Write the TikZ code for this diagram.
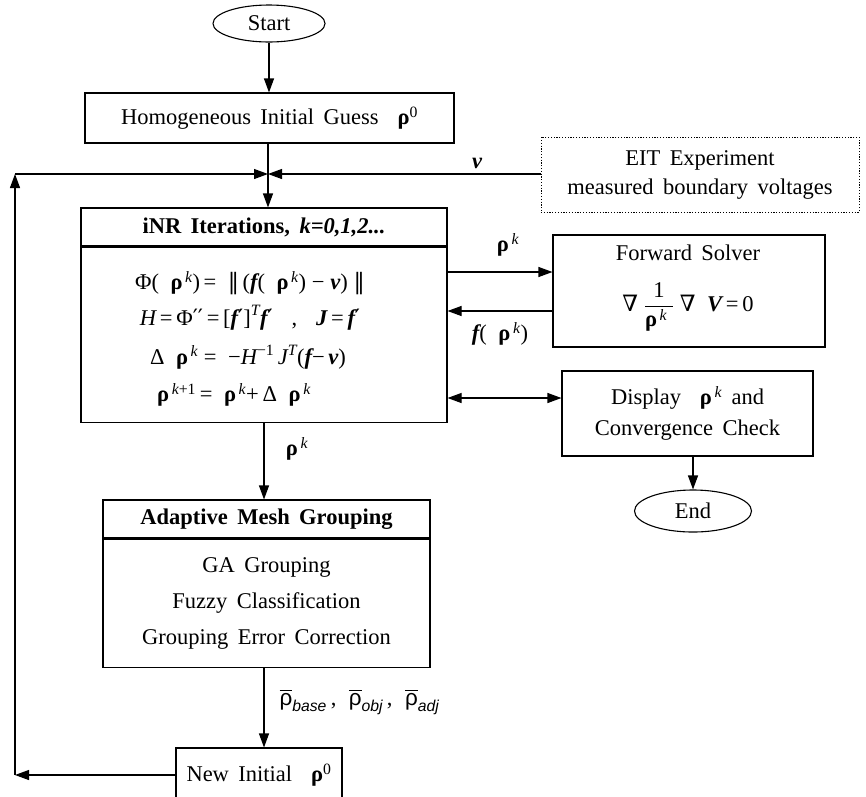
\documentclass[tikz,border=0pt]{standalone}
\usepackage{fontspec}
\usepackage{amsmath}
\setmainfont{Liberation Serif}
\newfontfamily\symf{DejaVu Serif}
\newfontfamily\sansf{Liberation Sans}
\usetikzlibrary{arrows.meta,shapes.geometric}
\newcommand\fsz{\fontsize{22.5}{27}\selectfont\spaceskip=0.42em plus 0.1em\relax}
\newcommand\fszb{\fontsize{22.5}{36}\selectfont\spaceskip=0.42em plus 0.1em\relax}
\newcommand\fszc{\fontsize{22.5}{31}\selectfont\spaceskip=0.42em plus 0.1em\relax}
\newcommand\fszd{\fontsize{22.5}{29}\selectfont\spaceskip=0.42em plus 0.1em\relax}
\newcommand\rb{\text{\normalfont\bfseries ρ}}
\newcommand\kk{\text{\normalfont\itshape\,k}}
\newcommand\fb{\text{\normalfont\bfseries\itshape f}}
\newcommand\vb{\text{\normalfont\bfseries\itshape v}}
\newcommand\tx[1]{\text{\normalfont #1}}
\newcommand\pr{\text{\symf ′}}
\begin{document}
\begin{tikzpicture}[x=1pt,y=-1pt, line width=1.1pt,
  arr/.style={-{Triangle[length=14pt,width=10pt]}},
  dbl/.style={{Triangle[length=14pt,width=10pt]}-{Triangle[length=14pt,width=10pt]}},
  box/.style={draw, rectangle, inner sep=0pt, font=\fsz, align=center},
  oval/.style={draw, ellipse, inner sep=0pt, font=\fsz},
  txt/.style={inner sep=0pt, font=\fsz},
  dotbox/.style={box, dash pattern=on 1.2pt off 1.6pt, line width=0.9pt}]
\useasboundingbox (0,0) rectangle (866,796);
\clip (0,0) rectangle (866,796);

\node[oval, minimum width=112, minimum height=37] (start) at (269,23.5) {Start};
\node[box, minimum width=369, minimum height=50] (homog) at (269.5,118) {Homogeneous Initial Guess\ \ $\rb^{\tx{0}}$};
\node[dotbox, minimum width=318, minimum height=75, font=\fszd] (eit) at (700,174.5) {EIT Experiment\\measured boundary voltages};

\node[box, minimum width=366, minimum height=38] (inrh) at (264,227) {\bfseries iNR Iterations, \itshape k=0,1,2...};
\node[box, minimum width=366, minimum height=175, anchor=north] (inrb) at (inrh.south) {};
\node[txt] (f1) at (250,283) {$\tx{Φ(}\;\;\rb^{\kk}\tx{)}\,\tx{=}\;\;\text{\symf ‖}\,\tx{(}\fb\tx{(}\;\;\rb^{\kk}\tx{)}\;\tx{−}\;\vb\tx{)}\;\text{\symf ‖}$};
\node[txt] (f2) at (250,318) {$\text{\normalfont\itshape H}\tx{\,=\,Φ}\pr\pr\tx{\,=\,[}\fb\pr\tx{]}^{\text{\normalfont\itshape T}}\fb\pr\tx{\ \ ,\ \ }\text{\normalfont\bfseries\itshape J}\tx{\,=\,}\fb\pr$};
\node[txt] (f3) at (248,357) {$\tx{Δ}\;\;\rb^{\kk}\;\tx{=}\;\;\tx{−}\text{\normalfont\itshape H}^{\tx{−1}}\,\text{\normalfont\itshape J}^{\text{\normalfont\itshape T}}\tx{(}\fb\tx{−\,}\vb\tx{)}$};
\node[txt] (f4) at (234,395) {$\rb^{\kk\tx{+1}}\tx{\,=}\;\;\rb^{\kk}\tx{+\,Δ}\;\;\rb^{\kk}$};

\node[box, minimum width=272, minimum height=112] (fs) at (689,291) {};
\node[txt] (fst) at (688,253) {Forward Solver};
\node[txt] (fsf) at (688,307) {$\text{\symf ∇}\;\dfrac{\tx{\;1\;}}{\rb^{\kk}\;}\;\text{\symf ∇}\;\;\text{\normalfont\bfseries\itshape V}\tx{\,=\,0}$};

\node[box, minimum width=251, minimum height=85, font=\fszc] (disp) at (687.5,413.5) {Display\ \ $\rb^{\kk}$ and\\Convergence Check};
\node[oval, minimum width=117, minimum height=42] (end) at (693,511) {End};

\node[box, minimum width=327, minimum height=38] (adh) at (266.5,519) {\bfseries Adaptive Mesh Grouping};
\node[box, minimum width=327, minimum height=128, anchor=north, font=\fszb] (adb) at (adh.south) {GA Grouping\\Fuzzy Classification\\Grouping Error Correction};

\node[box, minimum width=166, minimum height=54] (newi) at (259,775) {New Initial\ \ $\rb^{\tx{0}}$};

\coordinate (J) at (268,174);
\coordinate (TL) at (15,174);
\coordinate (BL) at (15,775);

\draw[arr] (start.south) -- (start.south |- homog.north);
\draw[arr] (homog.south -| J) -- (J |- inrh.north);
\draw[arr] (newi.west) -- (BL);
\draw[arr] (BL) -- (TL);
\draw[arr] (TL) -- (J);
\draw[arr] (eit.west |- J) -- (J);
\draw[arr] ([yshift=19pt]fs.west -| inrb.east) -- ([yshift=19pt]fs.west);
\draw[arr] ([yshift=-20pt]fs.west) -- ([yshift=-20pt]fs.west -| inrb.east);
\draw[dbl] ([yshift=15.5pt]disp.west -| inrb.east) -- ([yshift=15.5pt]disp.west);
\draw[arr] (end.north |- disp.south) -- (end.north);
\draw[arr] (inrb.south) -- (inrb.south |- adh.north);
\draw[arr] ([xshift=5pt]newi.north |- adb.south) -- ([xshift=5pt]newi.north);

\node[txt] (lv) at (477,163) {$\vb$};
\node[txt] (lrk1) at (508,245) {$\rb^{\kk}$};
\node[txt] (lf) at (500,334) {$\fb\tx{(}\;\;\rb^{\kk}\tx{)}$};
\node[txt] (lrk2) at (297,449) {$\rb^{\kk}$};
\node[txt, anchor=west] (lbar) at (279,702) {$\overline{\text{\sansf ρ}}_{\text{\sansf\itshape base}}\tx{\,,\;\;}\overline{\text{\sansf ρ}}_{\text{\sansf\itshape obj}}\tx{\,,\;\;}\overline{\text{\sansf ρ}}_{\text{\sansf\itshape adj}}$};
\end{tikzpicture}
\end{document}
